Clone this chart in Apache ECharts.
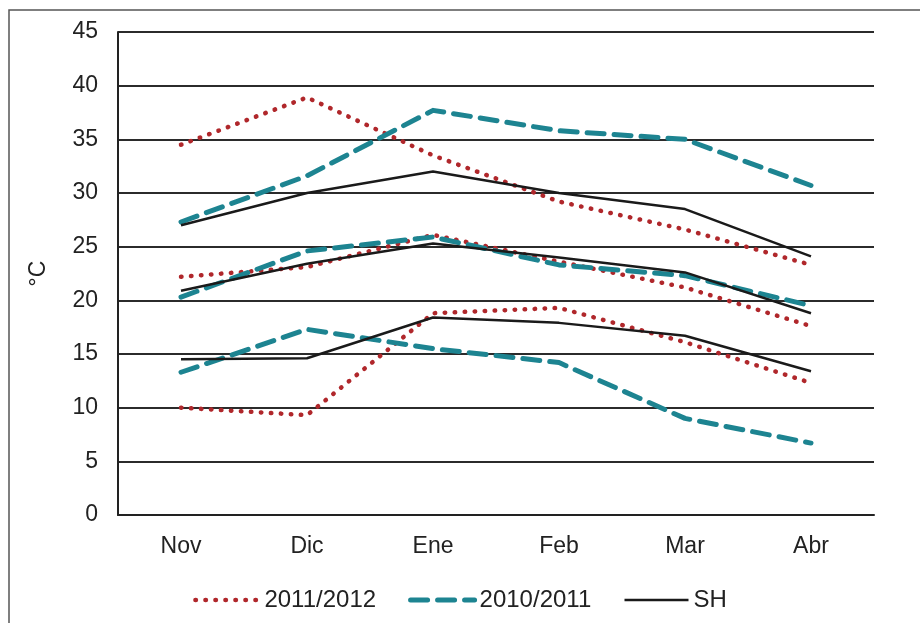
<!DOCTYPE html>
<html>
<head>
<meta charset="utf-8">
<script src="https://cdn.jsdelivr.net/npm/echarts@6/dist/echarts.min.js"></script>
<style>
  html, body { margin: 0; padding: 0; background: #fff; }
  #chart { width: 920px; height: 623px; }
</style>
</head>
<body>
<div id="chart"></div>
<script>
const months = ["Nov", "Dic", "Ene", "Feb", "Mar", "Abr"];
const groups = ["2011/2012", "2010/2011", "SH"];

// 2011/2012
const max1112 = [34.5, 38.9, 33.5, 29.2, 26.6, 23.3];
const mean1112 = [22.2, 23.1, 26.1, 23.6, 21.2, 17.6];
const min1112 = [10.0, 9.3, 18.8, 19.3, 16.1, 12.3];

// 2010/2011
const max1011 = [27.3, 31.6, 37.7, 35.8, 35.0, 30.7];
const mean1011 = [20.3, 24.6, 25.9, 23.3, 22.3, 19.5];
const min1011 = [13.3, 17.3, 15.5, 14.2, 9.0, 6.7];

// SH
const maxSH = [27.0, 30.0, 32.0, 30.0, 28.5, 24.1];
const meanSH = [20.9, 23.4, 25.3, 24.0, 22.6, 18.8];
const minSH = [14.5, 14.6, 18.4, 17.9, 16.7, 13.4];

const styles = {
  "2011/2012": { color: "#b0272b", width: 4.5, type: [0.5, 9.5], cap: "round" },
  "2010/2011": { color: "#1d8491", width: 5, type: [17, 10], cap: "round" },
  "SH": { color: "#1a1a1a", width: 2.5, type: "solid", cap: "butt" }
};

function lineStyleOf(name) {
  const s = styles[name];
  return { color: s.color, width: s.width, type: s.type, cap: s.cap, join: "round" };
}

function line(name, data) {
  return {
    name: name,
    type: "line",
    data: data,
    symbol: "none",
    z: name === "SH" ? 4 : 3,
    itemStyle: { color: styles[name].color },
    lineStyle: lineStyleOf(name)
  };
}

const font = "Liberation Sans";

const chart = echarts.init(document.getElementById("chart"));
chart.setOption({
  animation: false,
  backgroundColor: "#fff",
  graphic: [{
    type: "rect",
    shape: { x: 9, y: 10, width: 1000, height: 1000 },
    style: { fill: "none", stroke: "#555", lineWidth: 1.5 },
    silent: true
  }],
  grid: { left: 118, right: 46, top: 32, bottom: 108 },
  xAxis: {
    type: "category",
    data: months,
    boundaryGap: true,
    axisLine: { lineStyle: { color: "#222", width: 2 } },
    axisTick: { show: false },
    axisLabel: { color: "#222", fontSize: 23, fontFamily: font, margin: 20 }
  },
  yAxis: {
    type: "value",
    min: 0,
    max: 45,
    interval: 5,
    name: "°C",
    nameLocation: "middle",
    nameRotate: 90,
    nameGap: 68,
    nameTextStyle: { color: "#222", fontSize: 23, fontFamily: font },
    axisLine: { show: true, lineStyle: { color: "#222", width: 2 } },
    axisTick: { show: false },
    axisLabel: { color: "#222", fontSize: 23, fontFamily: font, margin: 20 },
    splitLine: { lineStyle: { color: "#2b2b2b", width: 2 } }
  },
  legend: {
    data: groups.map(function (g) {
      return { name: g, lineStyle: lineStyleOf(g) };
    }),
    bottom: 6,
    left: "center",
    itemWidth: 64,
    itemHeight: 14,
    itemGap: 32,
    itemStyle: { opacity: 0, borderWidth: 0 },
    textStyle: { color: "#222", fontSize: 24, fontFamily: font }
  },
  series: [
    line("2011/2012", max1112),
    line("2011/2012", mean1112),
    line("2011/2012", min1112),
    line("2010/2011", max1011),
    line("2010/2011", mean1011),
    line("2010/2011", min1011),
    line("SH", maxSH),
    line("SH", meanSH),
    line("SH", minSH)
  ]
});
</script>
</body>
</html>
